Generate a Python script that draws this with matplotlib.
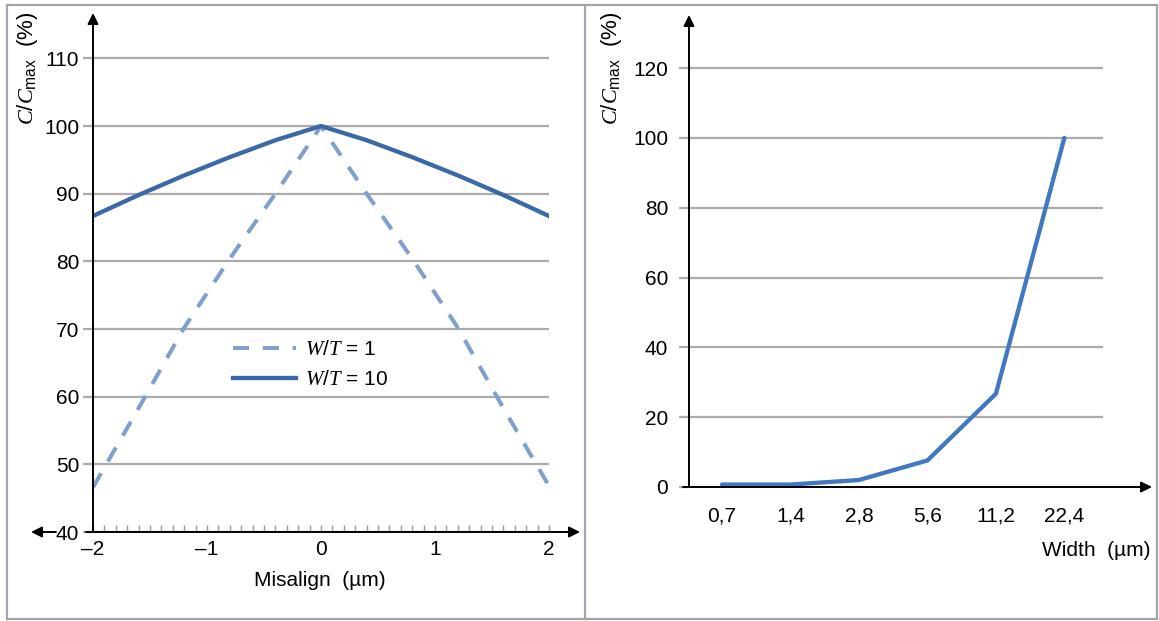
import matplotlib
matplotlib.use("Agg")
import matplotlib.pyplot as plt
from matplotlib.ticker import MultipleLocator, FixedLocator
from matplotlib.lines import Line2D

plt.rcParams['font.family'] = ['Liberation Sans', 'DejaVu Sans']
plt.rcParams['mathtext.fontset'] = 'custom'
plt.rcParams['mathtext.it'] = 'Liberation Serif:italic'
plt.rcParams['mathtext.rm'] = 'Liberation Sans'
plt.rcParams['mathtext.sf'] = 'Liberation Sans'

# ---------------- data ----------------
misalign = [-2.0, -1.6, -1.2, -0.8, -0.4, 0.0, 0.4, 0.8, 1.2, 1.6, 2.0]
wt1 = [46.6, 58.3, 70.2, 80.4, 90.0, 100.0, 90.0, 80.4, 70.2, 58.3, 46.8]
wt10 = [86.7, 89.8, 92.7, 95.4, 97.9, 100.0, 97.9, 95.4, 92.7, 89.8, 86.7]
left_yticks = [40, 50, 60, 70, 80, 90, 100, 110]
left_xticks = [-2, -1, 0, 1, 2]
left_xticklabels = ['\u20132', '\u20131', '0', '1', '2']
legend_labels = [r'$\mathit{W/T}$ = 1', r'$\mathit{W/T}$ = 10']

width_labels = ['0,7', '1,4', '2,8', '5,6', '11,2', '22,4']
width_vals = [0.7, 0.7, 2.0, 7.6, 26.7, 100.0]
right_yticks = [0, 20, 40, 60, 80, 100, 120]

W, H = 1159, 621
fig = plt.figure(figsize=(W / 100, H / 100), dpi=100)
fig.patch.set_facecolor('white')

def fx(px):
    return px / W

def fy(py):
    return 1 - py / H

BLUE_D = '#819fcd'
BLUE_S = '#3b68a6'
BLUE_R = '#4278c0'
GRID = '#ababab'
FS = 15
YL = r'$\mathit{C/C}_{\mathrm{max}}$  (%)'

# ---------------- left panel ----------------
axL = fig.add_axes([fx(93), fy(532), fx(549 - 93), (532 - 13) / H])
axL.set_xlim(-2, 2)
axL.set_ylim(40, 116.7)
for s in axL.spines.values():
    s.set_visible(False)
axL.yaxis.set_major_locator(FixedLocator(left_yticks))
axL.set_yticklabels([str(v) for v in left_yticks], fontsize=FS)
axL.tick_params(axis='y', length=7, width=1.6, color=GRID, pad=3)
axL.grid(axis='y', color=GRID, lw=1.6)
axL.set_axisbelow(True)
axL.xaxis.set_major_locator(FixedLocator(left_xticks))
axL.set_xticklabels(left_xticklabels, fontsize=FS)
axL.xaxis.set_minor_locator(MultipleLocator(0.1))
axL.tick_params(axis='x', which='both', direction='in', length=5, width=1.0,
                color='#999999', pad=6)

axL.plot(misalign, wt1, color=BLUE_D, lw=2.9, linestyle=(0, (4.0, 3.4)),
         solid_capstyle='butt', label=legend_labels[0], zorder=3)
axL.plot(misalign, wt10, color=BLUE_S, lw=3.1, label=legend_labels[1],
         solid_joinstyle='round', zorder=3)

arrow = dict(arrowstyle='-|>', color='black', lw=1.4, mutation_scale=16,
             shrinkA=0, shrinkB=0)
axL.annotate('', xy=(0, 1), xytext=(0, 0), xycoords='axes fraction',
             arrowprops=arrow, annotation_clip=False)
axL.annotate('', xy=((580 - 93) / 456, 0), xytext=((86 - 93) / 456, 0),
             xycoords='axes fraction', arrowprops=arrow, annotation_clip=False)
axL.annotate('', xy=((31 - 93) / 456, 0), xytext=((56 - 93) / 456, 0),
             xycoords='axes fraction', arrowprops=arrow, annotation_clip=False)

leg = axL.legend(loc='upper left', bbox_to_anchor=(fx(233), fy(340)),
                 bbox_transform=fig.transFigure, frameon=False, fontsize=FS,
                 handlelength=3.0, handletextpad=0.45, labelspacing=0.55,
                 borderpad=0, borderaxespad=0)

fig.text(fx(320), fy(580), 'Misalign  (\u00b5m)', ha='center', va='center',
         fontsize=FS)
fig.text(fx(28), fy(68), YL, rotation=90, ha='center', va='center',
         fontsize=FS + 1)

# ---------------- right panel ----------------
axR = fig.add_axes([fx(689), fy(487), fx(1152 - 689), (487 - 15) / H])
xs = list(range(len(width_labels)))
axR.set_xlim(-0.482, 6.28)
axR.set_ylim(0, 135.2)
for s in axR.spines.values():
    s.set_visible(False)
axR.yaxis.set_major_locator(FixedLocator(right_yticks))
axR.set_yticklabels([str(v) for v in right_yticks], fontsize=FS)
axR.tick_params(axis='y', length=7, width=1.6, color=GRID, pad=8)
gx_end = 5.56
axR.hlines(right_yticks[1:], -0.482, gx_end, color=GRID, lw=1.6, zorder=1)
axR.xaxis.set_major_locator(FixedLocator(xs))
axR.set_xticklabels(width_labels, fontsize=FS)
axR.tick_params(axis='x', length=0, pad=14)
axR.plot(xs, width_vals, color=BLUE_R, lw=3.1, solid_capstyle='round',
         zorder=3)
axR.annotate('', xy=(0, 1), xytext=(0, 0), xycoords='axes fraction',
             arrowprops=arrow, annotation_clip=False)
axR.annotate('', xy=(1, 0), xytext=((683 - 689) / 463, 0),
             xycoords='axes fraction', arrowprops=arrow, annotation_clip=False)
fig.text(fx(1150), fy(550), 'Width  (\u00b5m)', ha='right', va='center',
         fontsize=FS)
fig.text(fx(612), fy(68), YL, rotation=90, ha='center', va='center',
         fontsize=FS + 1)

# ---------------- panel borders ----------------
bc = '#a4a4b0'
for (x0, y0, x1, y1) in [(7, 5, 1157, 5), (7, 619, 1157, 619), (7, 5, 7, 619),
                         (585, 5, 585, 619), (1157, 5, 1157, 619)]:
    fig.add_artist(Line2D([fx(x0), fx(x1)], [fy(y0), fy(y1)],
                          transform=fig.transFigure, color=bc, lw=1.6))

fig.savefig('out.png', dpi=100, facecolor='white')
